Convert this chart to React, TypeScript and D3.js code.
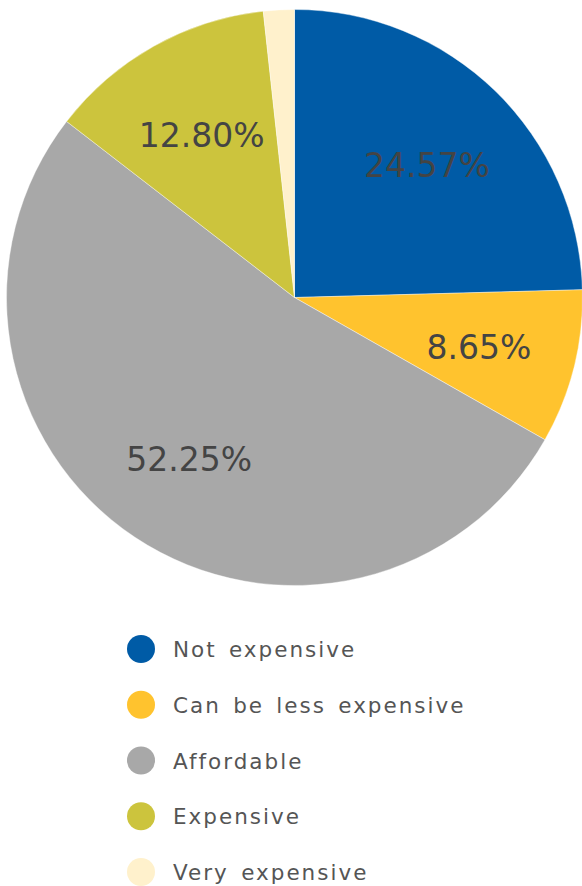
import React from "react";
import * as d3 from "d3";

const categories = ["Not expensive", "Can be less expensive", "Affordable", "Expensive", "Very expensive"];
const values = [24.57, 8.65, 52.25, 12.8, 1.73];
const labels = ["24.57%", "8.65%", "52.25%", "12.80%", ""];
const colors = ["#005BA6", "#FFC32E", "#A8A8A8", "#CCC43D", "#FFF1CC"];

export default function App() {
  const W = 582, H = 886;
  const cx = 294.5, cy = 297.5, R = 288;
  const pie = d3.pie<number>().sort(null).value((d) => d);
  const arcs = pie(values);
  const arc = d3.arc<d3.PieArcDatum<number>>().innerRadius(0).outerRadius(R);
  const labelArc = d3.arc<d3.PieArcDatum<number>>().innerRadius(190 * 2 - R).outerRadius(R);
  const legendY = d3.scaleLinear().domain([0, 4]).range([649, 872]);
  return (
    <svg width={W} height={H} style={{ position: "absolute", left: 0, top: 0 }}>
      <g transform={`translate(${cx},${cy})`}>
        {arcs.map((a, i) => (
          <path key={i} d={arc(a) || ""} fill={colors[i]} stroke="#fff" strokeWidth={0.4} />
        ))}
        {arcs.map((a, i) => {
          const [x, y] = labelArc.centroid(a);
          return labels[i] ? (
            <text key={"l" + i} x={x} y={y} dy="0.47em" textAnchor="middle" fontFamily="DejaVu Sans" fontSize={33} fill="#444">
              {labels[i]}
            </text>
          ) : null;
        })}
      </g>
      {categories.map((c, i) => (
        <g key={"g" + i}>
          <circle cx={141} cy={legendY(i)} r={14} fill={colors[i]} />
          <text x={173} y={legendY(i) + 8} fontFamily="DejaVu Sans" fontSize={21.5} letterSpacing={2} wordSpacing={3.5} fill="#555">
            {c}
          </text>
        </g>
      ))}
    </svg>
  );
}
